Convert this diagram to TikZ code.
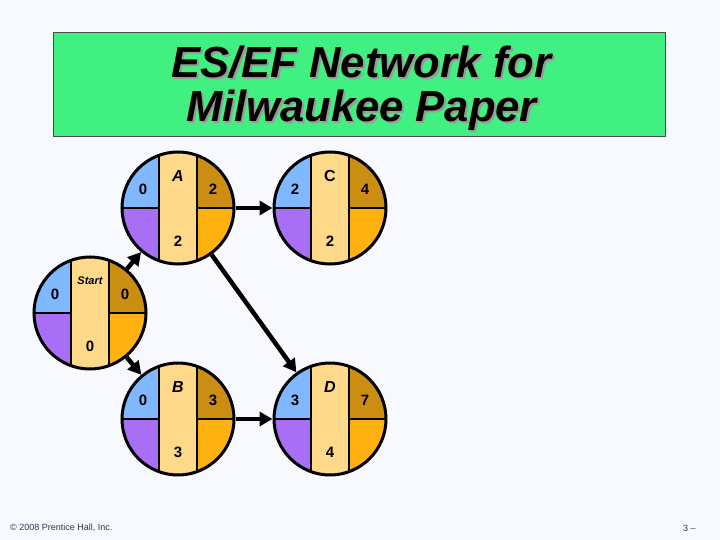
\documentclass[tikz,border=0pt]{standalone}
\usepackage{fontspec}
\setmainfont{Liberation Sans}
\usetikzlibrary{arrows.meta}
\definecolor{bg}{HTML}{F8F9FF}
\definecolor{titlegreen}{HTML}{40F080}
\definecolor{cBL}{HTML}{80B8FF}
\definecolor{cPU}{HTML}{A86EF5}
\definecolor{cST}{HTML}{FFD98A}
\definecolor{cGO}{HTML}{CC8E12}
\definecolor{cOR}{HTML}{FFB10F}
\definecolor{foot}{HTML}{333350}
\tikzset{
  actcirc/.style={circle, draw=black, line width=3pt, minimum size=112pt, inner sep=0pt},
  divline/.style={draw=black, line width=2.5pt},
  num/.style={font=\fontsize{15}{15}\selectfont\bfseries, text=black, inner sep=0pt},
  lbl/.style={font=\fontsize{16}{16}\selectfont\bfseries, text=black, inner sep=0pt},
  arr/.style={line width=4.5pt, -{Triangle[length=13pt,width=14pt]}},
  ttl/.style={font=\fontsize{43.5}{44}\selectfont\bfseries\itshape, anchor=base, inner sep=0pt},
  foottxt/.style={font=\fontsize{9}{9}\selectfont, text=foot, anchor=west, inner sep=0pt}
}
% name, x, y, es, label, ef, dur
\newcommand{\actnode}[7]{%
  \begin{scope}
    \clip (#2,#3) circle [radius=56];
    \fill[cBL] (#2-56,#3-56) rectangle (#2-19,#3);
    \fill[cPU] (#2-56,#3) rectangle (#2-19,#3+56);
    \fill[cST] (#2-19,#3-56) rectangle (#2+19,#3+56);
    \fill[cGO] (#2+19,#3-56) rectangle (#2+56,#3);
    \fill[cOR] (#2+19,#3) rectangle (#2+56,#3+56);
    \draw[divline] (#2-19,#3-56) -- (#2-19,#3+56);
    \draw[divline] (#2+19,#3-56) -- (#2+19,#3+56);
    \draw[divline] (#2-56,#3) -- (#2-19,#3);
    \draw[divline] (#2+19,#3) -- (#2+56,#3);
  \end{scope}
  \node[actcirc] (#1) at (#2,#3) {};
  \node[num] (#1-es) at (#2-35,#3-19) {#4};
  \node[lbl] (#1-lb) at (#2,#3-32) {#5};
  \node[num] (#1-ef) at (#2+35,#3-19) {#6};
  \node[num] (#1-du) at (#2,#3+33) {#7};
}
\begin{document}
\begin{tikzpicture}[x=1pt,y=-1pt]
  \fill[bg] (0,0) rectangle (720,540);
  \useasboundingbox (0,0) rectangle (720,540);
  % title
  \node[draw=black!70, line width=0.8pt, fill=titlegreen, minimum width=612pt, minimum height=104pt, inner sep=0pt] (titlebox) at (359,84) {};
  \node[ttl, text=black!40] (t1s) at (363.5,80) {ES/EF Network for};
  \node[ttl, text=black] (t1) at (361.5,78) {ES/EF Network for};
  \node[ttl, text=black!40] (t2s) at (363.5,124) {Milwaukee Paper};
  \node[ttl, text=black] (t2) at (361.5,122) {Milwaukee Paper};
  % activity nodes
  \actnode{S}{90}{313}{0}{\fontsize{11}{11}\selectfont\itshape Start}{0}{0}
  \actnode{A}{178}{208}{0}{\itshape A}{2}{2}
  \actnode{C}{330}{208}{2}{C}{4}{2}
  \actnode{B}{178}{419}{0}{\itshape B}{3}{3}
  \actnode{D}{330}{419}{3}{\itshape D}{7}{4}
  % connectors
  \draw[arr] (S) -- (A);
  \draw[arr] (S) -- (B);
  \draw[arr] (A) -- (C);
  \draw[arr] (A) -- (D);
  \draw[arr] (B) -- (D);
  % footer
  \node[foottxt] (copy) at (10,528) {© 2008 Prentice Hall, Inc.};
  \node[foottxt] (page) at (683,528) {3 –};
\end{tikzpicture}
\end{document}
